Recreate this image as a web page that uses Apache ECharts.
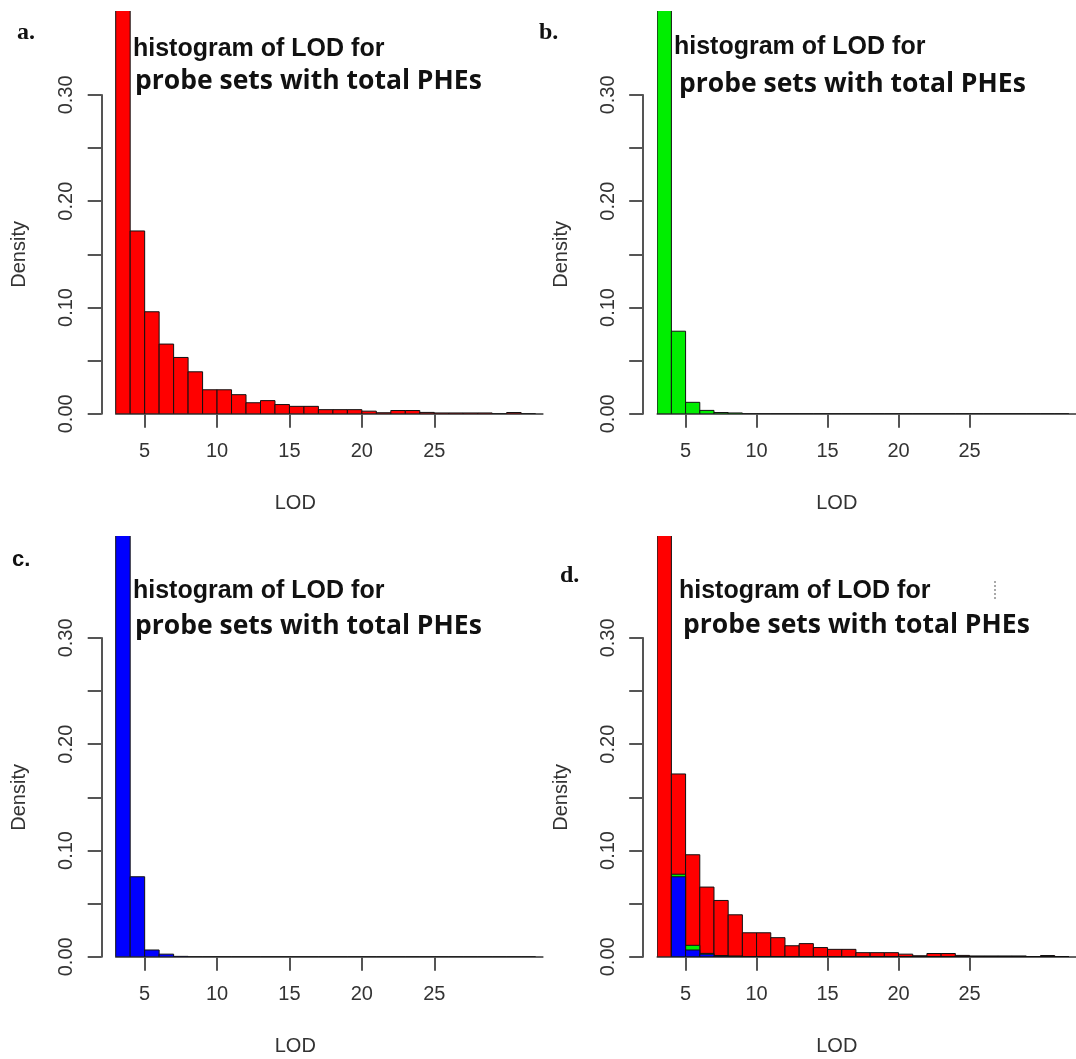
<!DOCTYPE html>
<html>
<head>
<meta charset="utf-8">
<script src="https://cdn.jsdelivr.net/npm/echarts@6/dist/echarts.min.js"></script>
<style>
html, body { margin: 0; padding: 0; background: #fff; }
#chart { width: 1076px; height: 1059px; }
</style>
</head>
<body>
<div id="chart"></div>
<script>
// bin edges of the LOD histograms (width 1)
var lodBreaks = [3, 4, 5, 6, 7, 8, 9, 10, 11, 12, 13, 14, 15, 16, 17, 18, 19, 20,
                 21, 22, 23, 24, 25, 26, 27, 28, 29, 30, 31, 32];
var lodTicks = [5, 10, 15, 20, 25];
var densityTicks = [0, 0.05, 0.1, 0.15, 0.2, 0.25, 0.3];
var densityLabels = [0, 0.1, 0.2, 0.3];

// densities (first bin is cut by the plot top)
var redDensity = [0.437, 0.172, 0.096, 0.0656, 0.053, 0.0395, 0.0226, 0.0226, 0.018, 0.0104,
                  0.0124, 0.0087, 0.007, 0.007, 0.0039, 0.0039, 0.0039, 0.0025, 0.001, 0.0031,
                  0.0031, 0.0013, 0.0008, 0.0008, 0.0008, 0.0008, 0, 0.0012, 0];
var greenDensity = [0.906, 0.0777, 0.0108, 0.0032, 0.0012, 0.0008, 0, 0, 0, 0,
                    0, 0, 0, 0, 0, 0, 0, 0, 0, 0,
                    0, 0, 0, 0, 0, 0, 0, 0, 0];
var blueDensity = [0.916, 0.0753, 0.0064, 0.0025, 0.0004, 0, 0, 0, 0, 0,
                   0, 0, 0, 0, 0, 0, 0, 0, 0, 0,
                   0, 0, 0, 0, 0, 0, 0, 0, 0];

var titleLine1 = 'histogram of LOD for';
var titleLine2 = 'probe sets with total PHEs';

var myChart = echarts.init(document.getElementById('chart'));

var PX_X = 14.48;   // px per LOD unit
var PX_Y = 1063;    // px per density unit
var SANS = '"Liberation Sans", Arial, sans-serif';

// panel frames: x of the y axis line, y of the zero line, top of the plot clip
var panels = [
    {label: 'a.', axisX: 101.7, baseY: 413.8, clipTop: 11},
    {label: 'b.', axisX: 643.2, baseY: 413.8, clipTop: 11},
    {label: 'c.', axisX: 101.7, baseY: 956.8, clipTop: 536},
    {label: 'd.', axisX: 643.2, baseY: 956.8, clipTop: 536}
];

var grid = [], xAxis = [], yAxis = [], series = [];

var renderBar = function(params, api){
    var tl = api.coord([api.value(0), api.value(2)]);
    var br = api.coord([api.value(1), 0]);
    return {
        type: 'rect',
        shape: {x: tl[0], y: tl[1], width: br[0] - tl[0], height: br[1] - tl[1]},
        style: api.style()
    };
};

var histSeries = function(breaks, dens, color, gi){
    var data = dens.map(function(v, i){ return [breaks[i], breaks[i + 1], v]; });
    return {
        type: 'custom',
        xAxisIndex: gi,
        yAxisIndex: gi,
        clip: true,
        encode: {x: [0, 1], y: 2},
        itemStyle: {color: color, borderColor: '#111', borderWidth: 1},
        renderItem: renderBar,
        data: data
    };
};

panels.forEach(function(p, k){
    var gi = 2 * k;
    var left = p.axisX + 14;
    var height = p.baseY - p.clipTop;
    var xMax = 32.5;

    // plot area
    grid.push({left: left, top: p.clipTop, width: (xMax - 3) * PX_X, height: height});
    xAxis.push({
        gridIndex: gi, type: 'value', min: 3, max: xMax,
        axisLine: {show: true, onZero: false, lineStyle: {color: '#333', width: 1.5}},
        axisTick: {show: true, customValues: lodTicks, length: 14, lineStyle: {color: '#555', width: 2}},
        axisLabel: {customValues: lodTicks, fontSize: 20, color: '#333', fontFamily: SANS, margin: 28},
        splitLine: {show: false}
    });
    yAxis.push({gridIndex: gi, type: 'value', min: 0, max: height / PX_Y, show: false});

    // R style axis, 0 to 0.30 only
    grid.push({left: p.axisX, top: p.baseY - 0.3 * PX_Y, width: 387.2, height: 0.3 * PX_Y});
    xAxis.push({
        gridIndex: gi + 1, type: 'value', min: 0, max: 1,
        axisLine: {show: false}, axisTick: {show: false}, axisLabel: {show: false},
        splitLine: {show: false},
        name: 'LOD', nameLocation: 'middle', nameGap: 80,
        nameTextStyle: {fontSize: 20, color: '#333', fontFamily: SANS}
    });
    yAxis.push({
        gridIndex: gi + 1, type: 'value', min: 0, max: 0.3,
        axisLine: {show: true, lineStyle: {color: '#555', width: 2}},
        axisTick: {show: true, customValues: densityTicks, length: 14, lineStyle: {color: '#555', width: 2}},
        axisLabel: {
            customValues: densityLabels, rotate: 90, margin: 25,
            fontSize: 20, color: '#333', fontFamily: SANS,
            formatter: function(v){ return v.toFixed(2); }
        },
        splitLine: {show: false},
        name: 'Density', nameLocation: 'middle', nameRotate: 90, nameGap: 72,
        nameTextStyle: {fontSize: 20, color: '#333', fontFamily: SANS}
    });
});

series.push(histSeries(lodBreaks, redDensity, '#ff0000', 0));
series.push(histSeries(lodBreaks, greenDensity, '#00ee00', 2));
series.push(histSeries(lodBreaks, blueDensity, '#0000ff', 4));
// d: all PHEs in red, green and blue drawn over it from the second bin
series.push(histSeries(lodBreaks, redDensity, '#ff0000', 6));
series.push(histSeries(lodBreaks.slice(1), greenDensity.slice(1), '#00ee00', 6));
series.push(histSeries(lodBreaks.slice(1), blueDensity.slice(1), '#0000ff', 6));

var text = function(x, y, str, font){
    return {type: 'text', x: x, y: y, silent: true,
            style: {text: str, font: font, fill: '#111', textAlign: 'left', textVerticalAlign: 'middle'}};
};

var titlePos = [
    [133, 49, 135, 81],
    [674, 47, 679, 84],
    [133, 591, 135, 626],
    [679, 591, 683, 625]
];

var graphic = [];
titlePos.forEach(function(t){
    graphic.push(text(t[0], t[1], titleLine1, 'bold 25px "Liberation Sans", Arial, sans-serif'));
    graphic.push(text(t[2], t[3], titleLine2, 'bold 26.5px "Open Sans", sans-serif'));
});
graphic.push(text(17, 33, panels[0].label, 'bold 24px "Liberation Serif", serif'));
graphic.push(text(539, 33, panels[1].label, 'bold 24px "Liberation Serif", serif'));
graphic.push(text(12, 560, panels[2].label, 'bold 22px "Liberation Sans", sans-serif'));
graphic.push(text(560, 576, panels[3].label, 'bold 24px "Liberation Serif", serif'));
// small dotted mark next to the title of panel d
graphic.push({type: 'line', x: 0, y: 0, silent: true,
              shape: {x1: 995, y1: 581, x2: 995, y2: 599},
              style: {stroke: '#555', lineWidth: 1, lineDash: [2, 2]}});

var option = {
    animation: false,
    backgroundColor: '#fff',
    grid: grid,
    xAxis: xAxis,
    yAxis: yAxis,
    series: series,
    graphic: graphic
};

myChart.setOption(option);
</script>
</body>
</html>
